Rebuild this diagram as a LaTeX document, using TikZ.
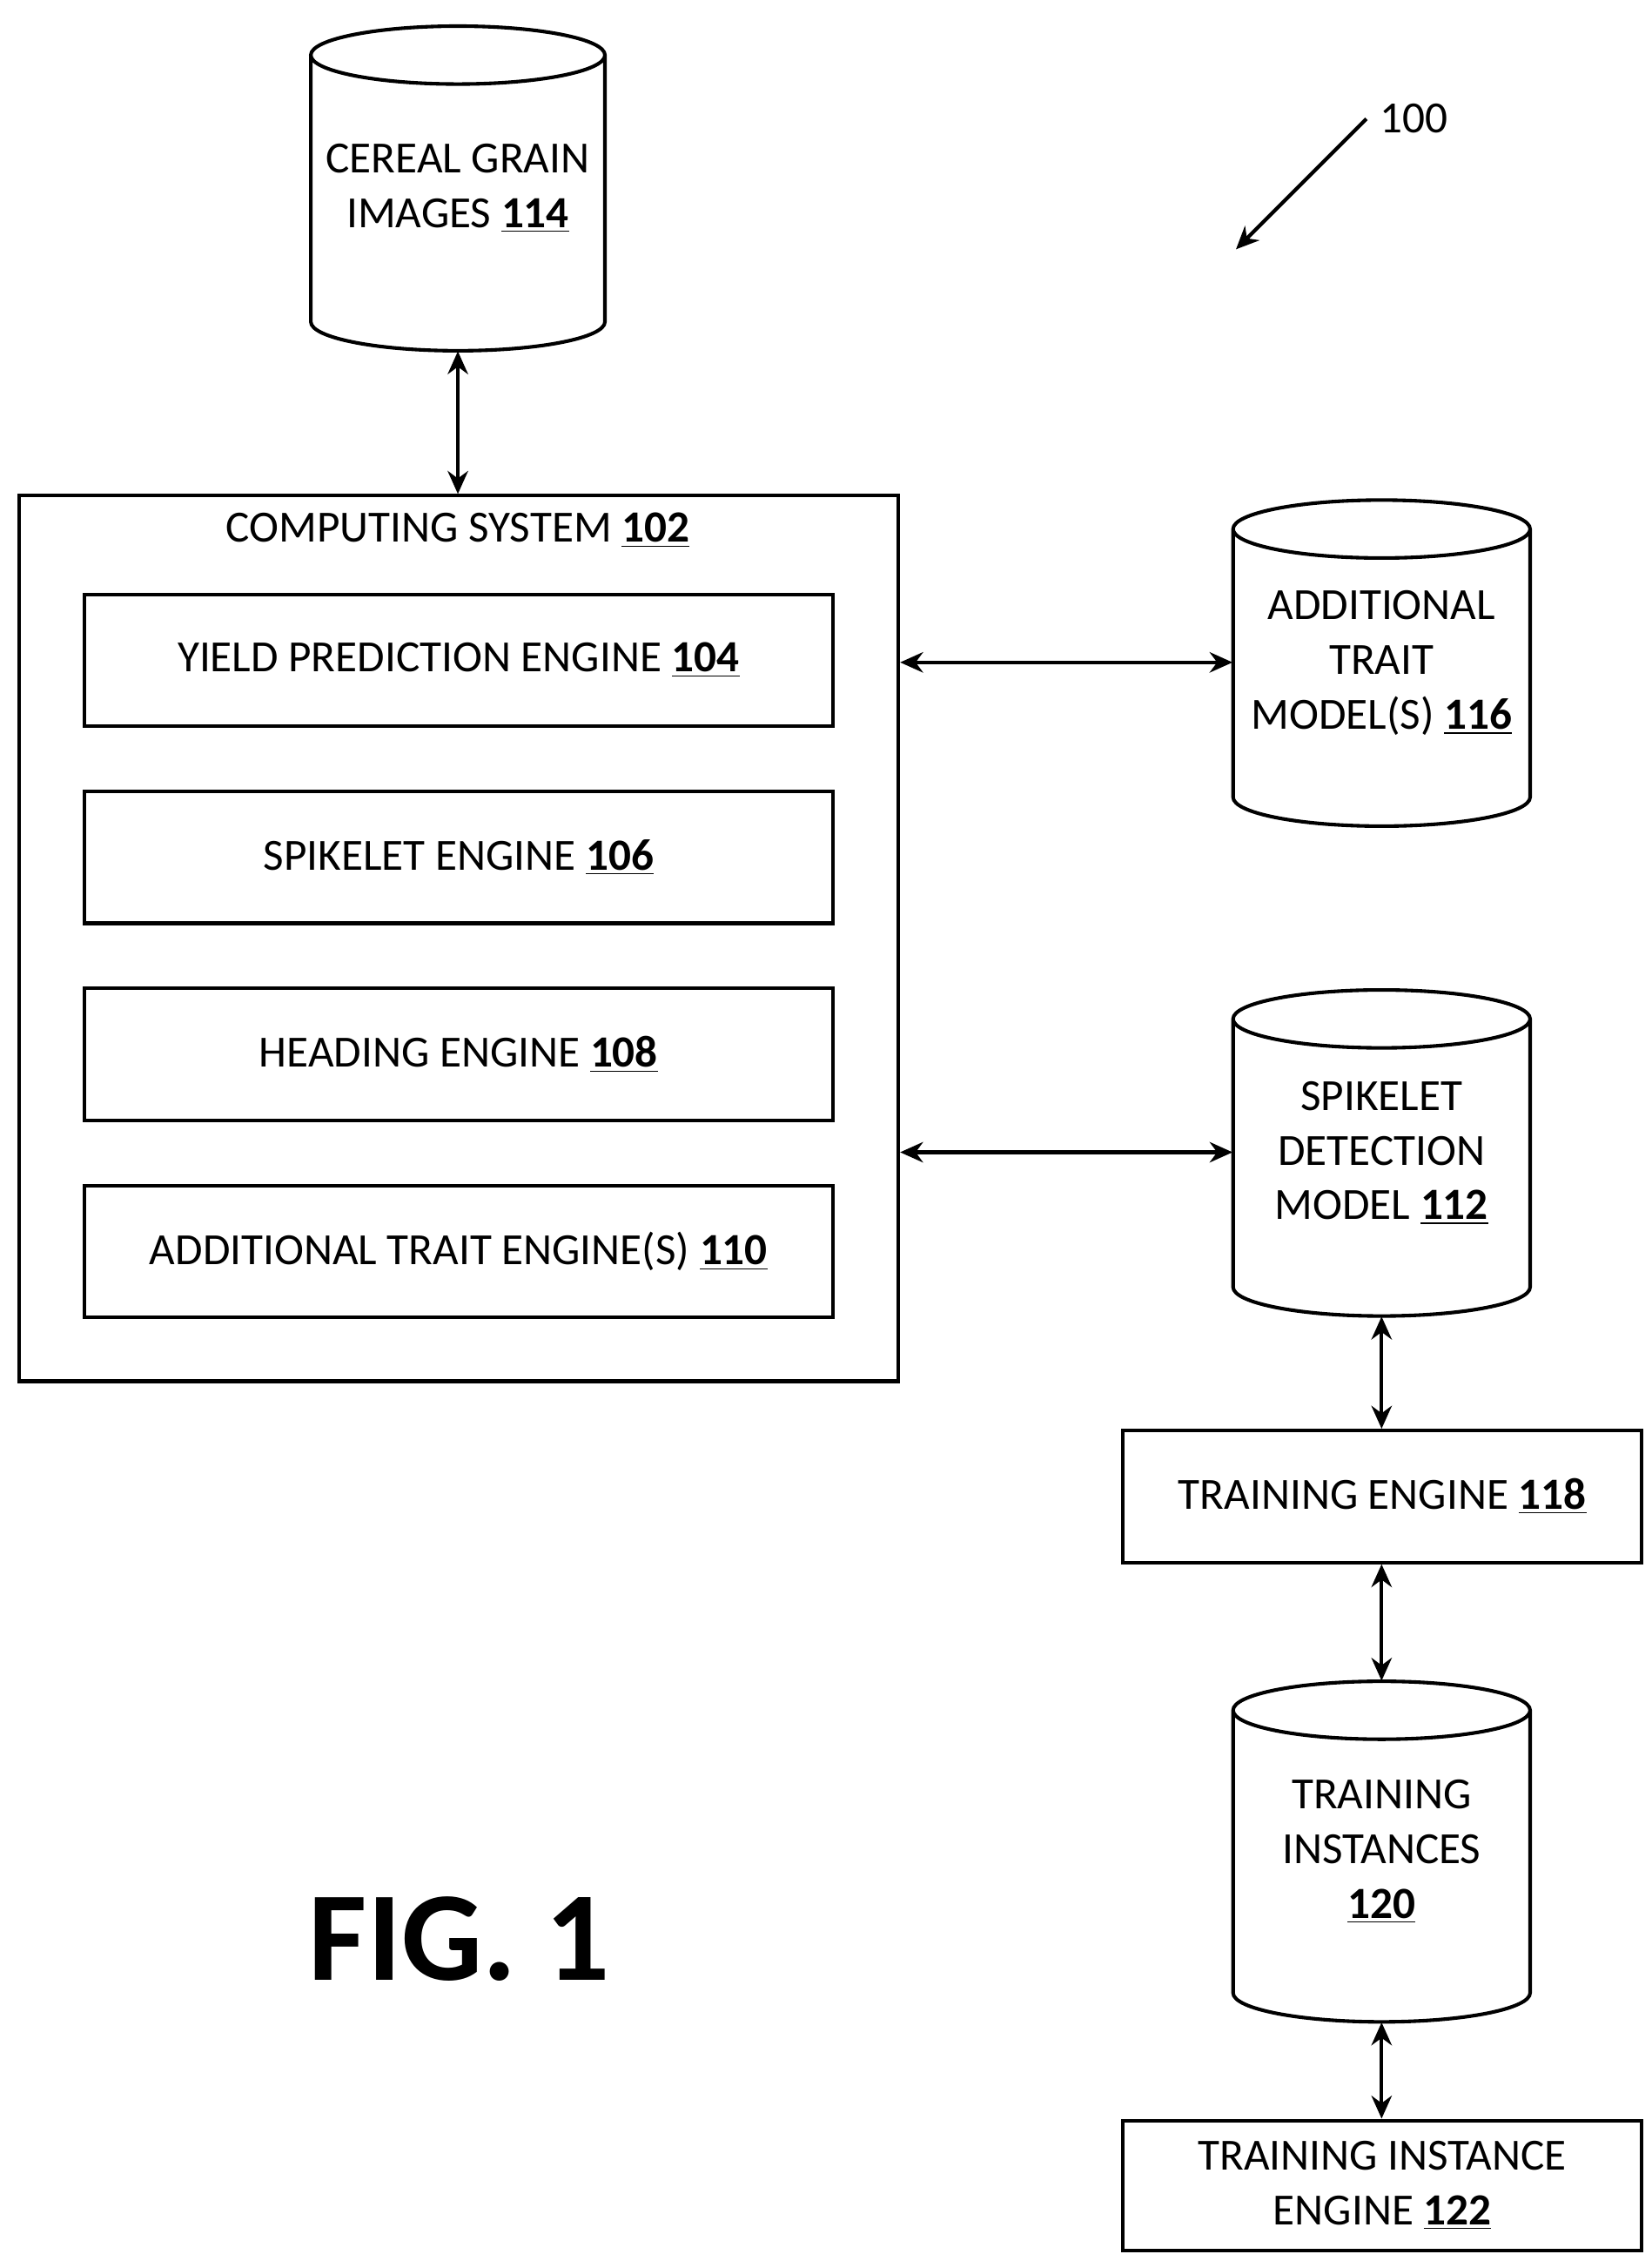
\documentclass[tikz,border=0pt]{standalone}
\usepackage{fontspec}
\setmainfont{Carlito}
\usetikzlibrary{arrows.meta}
\newcommand\num[1]{\underline{\textbf{#1}}}
\newcommand\cyl[6]{%
 \pgfmathsetmacro\rx{#4/2*0.02}%
 \pgfmathsetmacro\hh{(#5-#3)*0.02}%
 \node[minimum width=#4*0.02cm,minimum height=\hh cm,inner sep=0pt,txt] (#1) at (#2,-#3/2-#5/2) {#6};
 \draw[ln] (#2-#4/2,-#3-20) -- (#2-#4/2,-#5+20) arc[start angle=180,end angle=360,x radius=\rx cm,y radius=0.4cm]
   -- (#2+#4/2,-#3-20) arc[start angle=0,end angle=180,x radius=\rx cm,y radius=0.4cm]
   arc[start angle=180,end angle=360,x radius=\rx cm,y radius=0.4cm];}
\begin{document}
\begin{tikzpicture}[x=0.02cm,y=0.02cm,
 ln/.style={line width=1.4pt},
 txt/.style={align=center,font=\fontsize{17.5}{21.5}\selectfont},
 box/.style={ln,draw,txt,inner sep=0pt},
 arr/.style={ln,{Stealth[length=9pt,width=8pt]}-{Stealth[length=9pt,width=8pt]}}]
\useasboundingbox (0,0) rectangle (1140,-1560);
\cyl{c114}{316}{18}{203}{242}{CEREAL GRAIN\\IMAGES \num{114}}
\node[box,minimum width=607*0.02cm,minimum height=611*0.02cm] (cs) at (316.5,-647.5) {};
\node[txt] (cst) at (316,-366) {COMPUTING SYSTEM \num{102}};
\node[box,minimum width=517*0.02cm,minimum height=91*0.02cm] (b104) at (316.5,-455.5) {YIELD PREDICTION ENGINE \num{104}};
\node[box,minimum width=517*0.02cm,minimum height=91*0.02cm] (b106) at (316.5,-591.5) {SPIKELET ENGINE \num{106}};
\node[box,minimum width=517*0.02cm,minimum height=91*0.02cm] (b108) at (316.5,-727.5) {HEADING ENGINE \num{108}};
\node[box,minimum width=517*0.02cm,minimum height=91*0.02cm] (b110) at (316.5,-863.5) {ADDITIONAL TRAIT ENGINE(S) \num{110}};
\cyl{c116}{953.5}{345}{205}{570}{ADDITIONAL\\TRAIT\\MODEL(S) \num{116}}
\cyl{c112}{953.5}{683}{205}{908}{SPIKELET\\DETECTION\\MODEL \num{112}}
\node[box,minimum width=358*0.02cm,minimum height=91*0.02cm] (b118) at (954,-1032.5) {TRAINING ENGINE \num{118}};
\cyl{c120}{953.5}{1160}{205}{1395}{TRAINING\\INSTANCES\\\num{120}}
\node[box,minimum width=358*0.02cm,minimum height=90*0.02cm] (b122) at (954,-1508) {TRAINING INSTANCE\\ENGINE \num{122}};
\draw[arr] (c114.south) -- (cs.north -| c114.south);
\draw[arr] (cs.east |- 0,-457) -- (c116.west |- 0,-457);
\draw[arr] (cs.east |- 0,-795) -- (c112.west |- 0,-795);
\draw[arr] (c112.south) -- (b118.north -| c112.south);
\draw[arr] (b118.south -| c120.north) -- (c120.north);
\draw[arr] (c120.south) -- (b122.north -| c120.south);
\node[txt] (l100) at (976,-82) {100};
\coordinate (a100) at (853,-172);
\draw[ln,-{Stealth[length=9pt,width=8pt]}] (943,-82) -- (a100);
\node[font=\fontsize{50}{60}\selectfont\bfseries] (fig) at (317,-1338) {FIG. 1};
\end{tikzpicture}
\end{document}
